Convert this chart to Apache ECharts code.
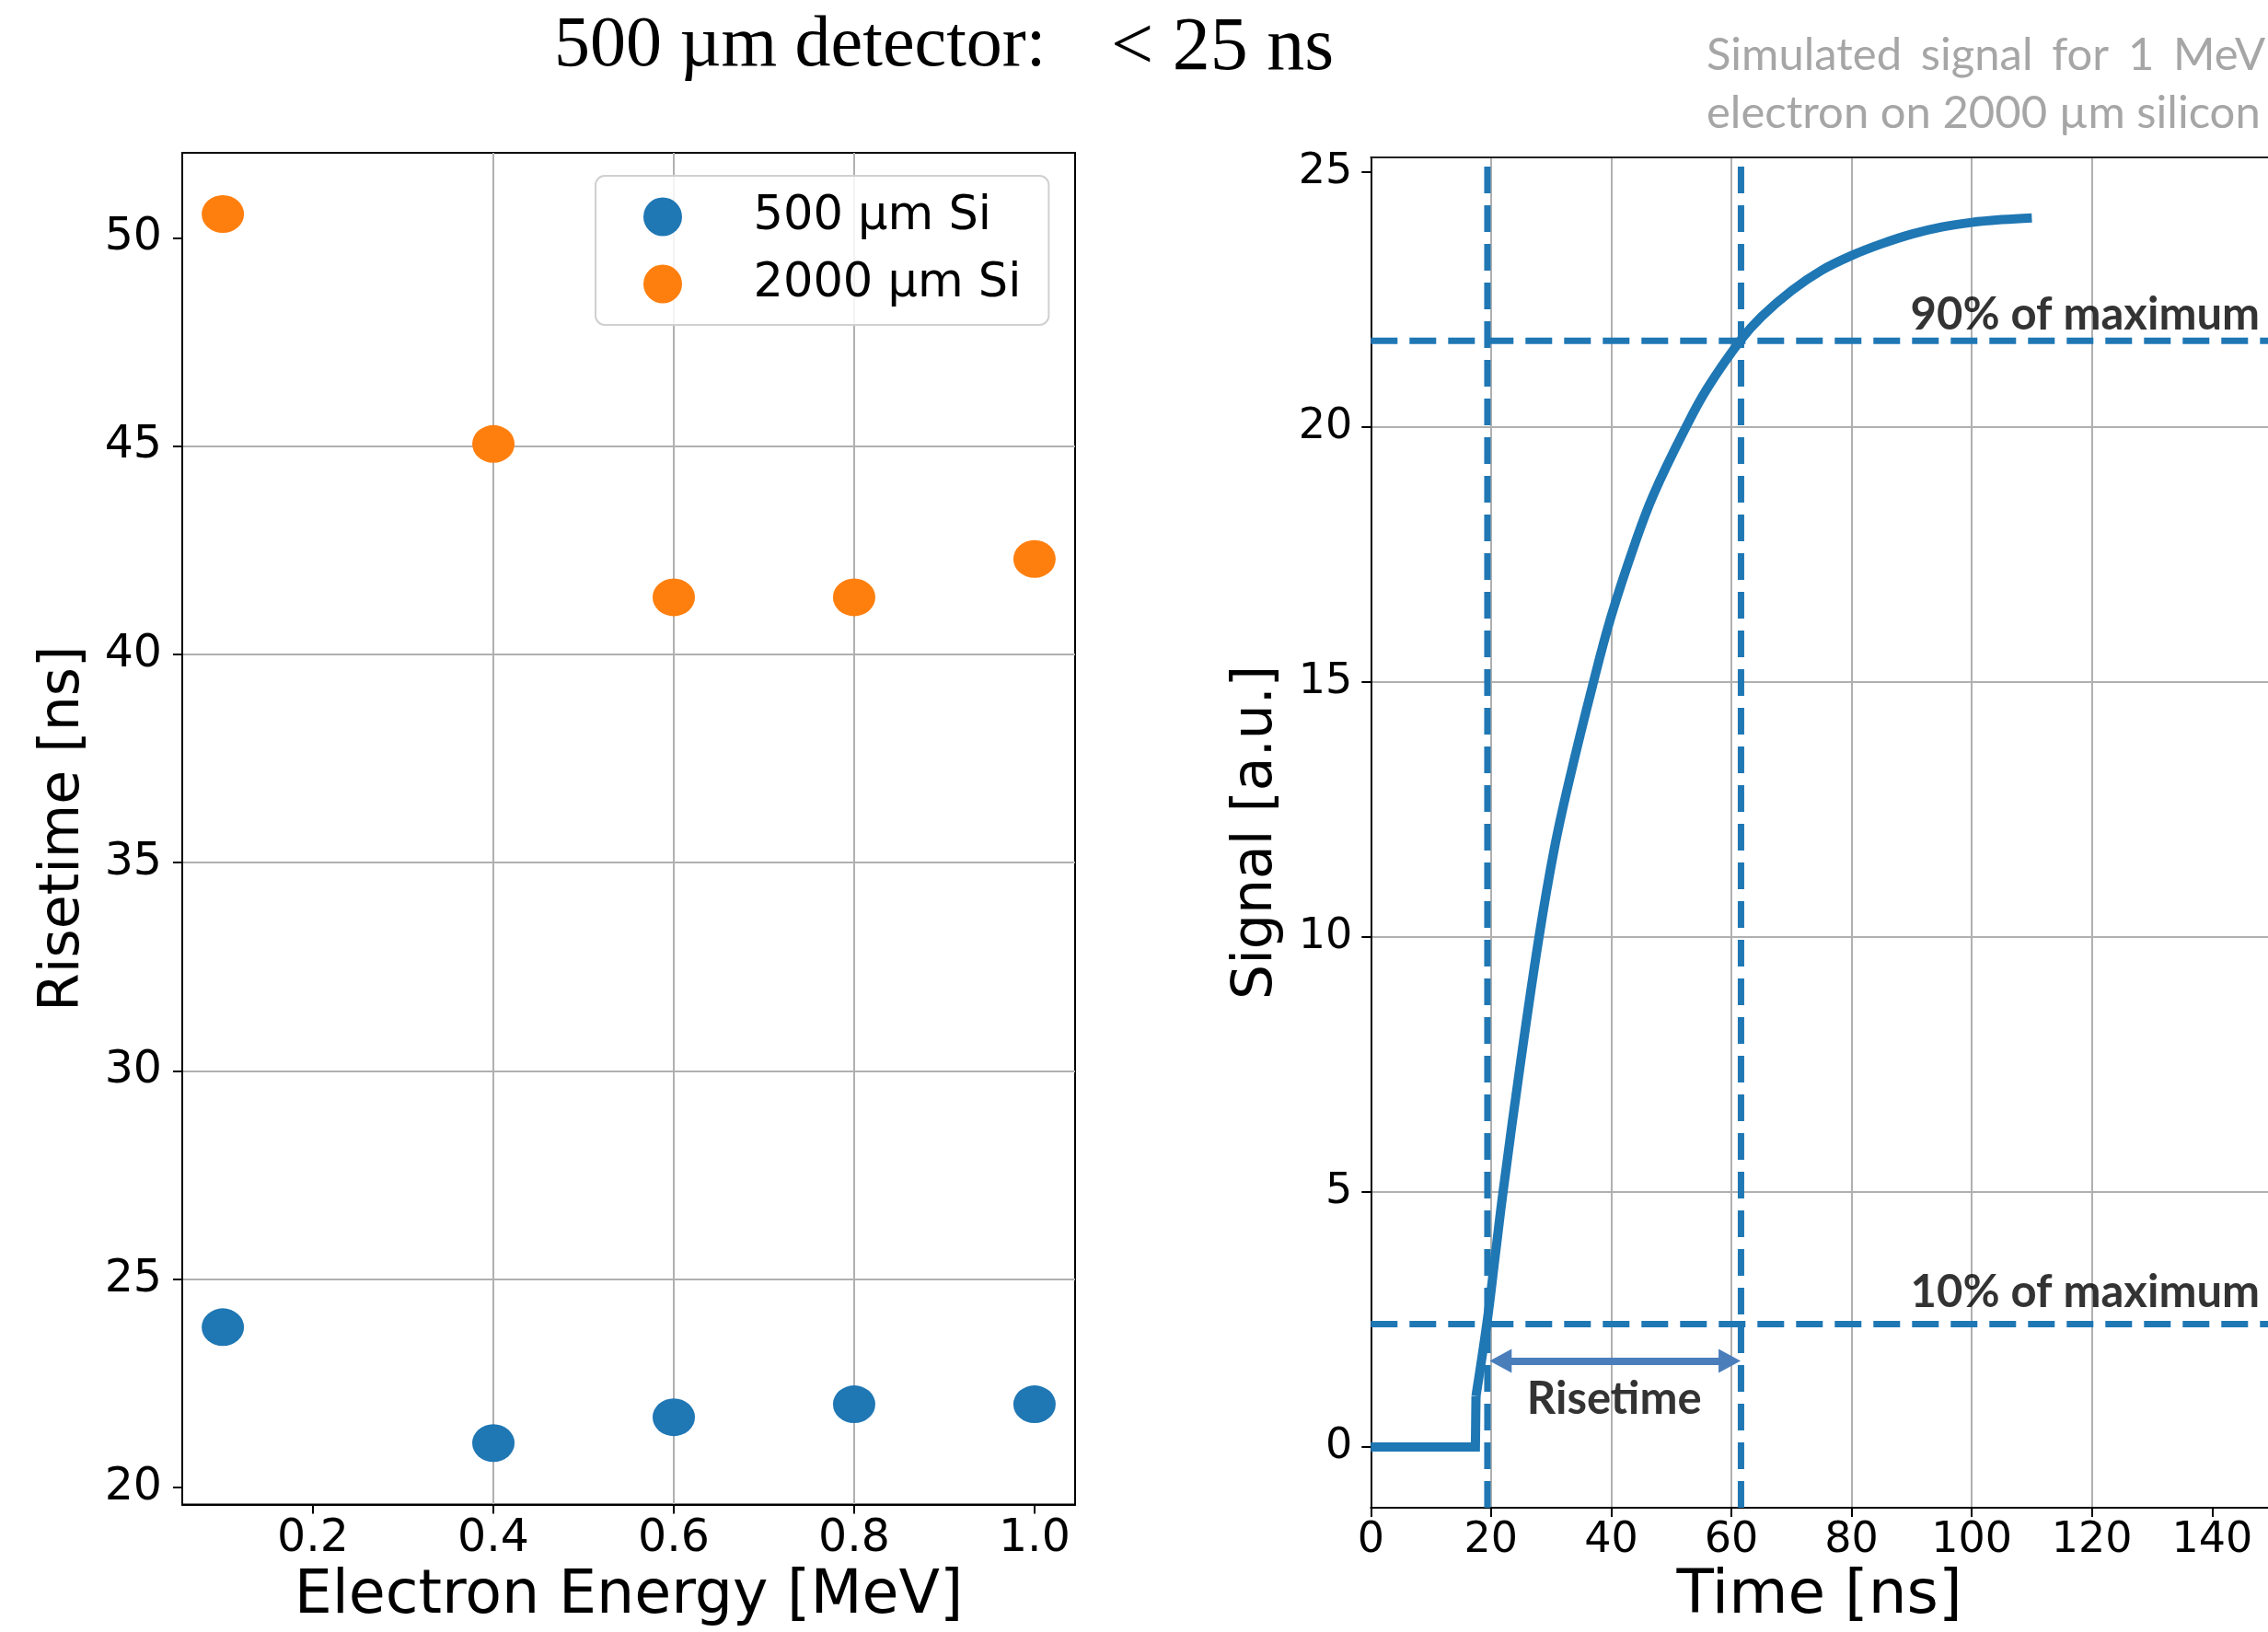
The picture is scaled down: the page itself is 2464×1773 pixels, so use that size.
<!DOCTYPE html>
<html><head><meta charset="utf-8">
<script src="https://cdn.jsdelivr.net/npm/echarts@6/dist/echarts.min.js"></script>
<style>html,body{margin:0;padding:0;background:#fff}#c{width:2464px;height:1773px}</style>
</head><body><div id="c"></div><script>
// ---------------- data ----------------
const energyMeV   = [0.1, 0.4, 0.6, 0.8, 1.0];
const rise500um   = [23.85, 21.07, 21.69, 22.0, 22.0];
const rise2000um  = [50.57, 45.05, 41.37, 41.37, 42.29];
const seriesNames = ['500 µm Si', '2000 µm Si'];

const leftXTicks  = [0.2, 0.4, 0.6, 0.8, 1.0];
const leftYTicks  = [20, 25, 30, 35, 40, 45, 50];
const rightXTicks = [0, 20, 40, 60, 80, 100, 120, 140];
const rightYTicks = [0, 5, 10, 15, 20, 25];

// simulated signal
const stepTime    = [0, 17.4, 17.5];
const stepSignal  = [0, 0, 1.0];
const curveTime   = [17.5, 19.4, 20.7, 22.0, 25.0, 28.0, 30.5, 33.0, 36.9, 40.0, 44.0, 47.1, 52.5, 56.0, 61.6, 65.0, 70.0, 75.0, 80.0, 85.0, 90.0, 95.0, 100.0, 105.0, 110.0];
const curveSignal = [1.0, 2.5, 3.75, 5.0, 7.61, 10.01, 11.71, 13.06, 14.93, 16.29, 17.73, 18.69, 20.01, 20.76, 21.71, 22.16, 22.67, 23.07, 23.36, 23.59, 23.78, 23.92, 24.01, 24.065, 24.1];

const level90 = 21.69, level10 = 2.41;     // horizontal dashed levels
const time10 = 19.4, time90 = 61.6;        // vertical dashed lines
const vLineTop = 25.14;
const arrowTime = [21.6, 59.7], arrowSignal = 1.69;
const annText  = ['90% of maximum', '10% of maximum', 'Risetime'];
const annTime  = [89.8, 89.8, 40.5];
const annValue = [22.2, 3.03, 0.93];

// axis extents
const leftXRange  = [0.055, 1.045];
const leftYRange  = [19.594, 52.04];
const rightXRange = [0, 149.3];
const rightYRange = [-1.19, 25.29];

// ---------------- chart ----------------
const BLUE = '#1f77b4', ORANGE = '#ff7f0e';
const ELLIPSE = 'path://M0,50 A50,50 0 1,0 100,50 A50,50 0 1,0 0,50 Z';
const dv = 'DejaVu Sans';
const chart = echarts.init(document.getElementById('c'), null, {renderer:'canvas'});

const dashStyle = {color: BLUE, width: 7, type: [29, 13]};
function lineSeries(data, style, extra) {
  return Object.assign({type:'line', xAxisIndex:1, yAxisIndex:1, data, symbol:'none', silent:true,
    lineStyle: style, emphasis:{disabled:true}, animation:false}, extra || {});
}
const sp = ' \u2006';

const option = {
  animation: false,
  backgroundColor: '#fff',
  title: [
    {text:'500 µm detector:', left:602, top:12, padding:0,
     textStyle:{fontFamily:'Liberation Serif', fontSize:78, fontWeight:'normal', color:'#000'}},
    {text:'< 25 ns', left:1207, top:12, padding:0,
     textStyle:{fontFamily:'Liberation Serif', fontSize:82, fontWeight:'normal', color:'#000'}},
    {text:'Simulated' + sp + 'signal' + sp + 'for' + sp + '1' + sp + 'MeV\nelectron on 2000 µm silicon', left:1854, top:29, padding:0,
     textStyle:{fontFamily:'Lato', fontSize:49, fontWeight:'normal', color:'#a6a6a6', lineHeight:63}}
  ],
  legend: {
    data: seriesNames, orient:'vertical', left:647, top:191, selectedMode:false,
    itemWidth:45, itemHeight:42, itemGap:22, padding:[19, 30, 19, 52],
    borderColor:'#d0d0d0', borderWidth:2, borderRadius:10, backgroundColor:'rgba(255,255,255,0.85)',
    textStyle:{fontFamily:dv, fontSize:51, color:'#000', padding:[0,0,0,71]}
  },
  grid: [
    {left:198, top:166, width:970, height:1469.7, show:true, borderColor:'#000', borderWidth:2, backgroundColor:'transparent'},
    {left:1489.3, top:170.7, width:974.7, height:1472}
  ],
  xAxis: [
    {gridIndex:0, type:'value', min:leftXRange[0], max:leftXRange[1],
     axisLine:{show:true, onZero:false, lineStyle:{color:'#000', width:2}},
     axisTick:{show:true, length:10, customValues:leftXTicks, lineStyle:{color:'#000', width:2}},
     axisLabel:{customValues:leftXTicks, formatter:v=>v.toFixed(1), fontFamily:dv, fontSize:49, color:'#000', margin:13},
     splitLine:{show:true, showMinLine:false, showMaxLine:false, lineStyle:{color:'#b0b0b0', width:2}},
     name:'Electron Energy [MeV]', nameLocation:'middle', nameGap:101,
     nameTextStyle:{fontFamily:dv, fontSize:65, color:'#000', verticalAlign:'middle'}},
    {gridIndex:1, type:'value', min:rightXRange[0], max:rightXRange[1], interval:20,
     axisLine:{show:true, onZero:false, lineStyle:{color:'#000', width:2}},
     axisTick:{show:true, length:10, customValues:rightXTicks, lineStyle:{color:'#000', width:2}},
     axisLabel:{customValues:rightXTicks, fontFamily:dv, fontSize:46, color:'#000', margin:13},
     splitLine:{show:true, showMinLine:false, showMaxLine:false, lineStyle:{color:'#b0b0b0', width:2}},
     name:'Time [ns]', nameLocation:'middle', nameGap:97,
     nameTextStyle:{fontFamily:dv, fontSize:66, color:'#000', verticalAlign:'middle'}},
    {gridIndex:1, type:'value', position:'top', min:rightXRange[0], max:rightXRange[1],
     axisLine:{show:true, onZero:false, lineStyle:{color:'#222', width:2}},
     axisTick:{show:false}, axisLabel:{show:false}, splitLine:{show:false}}
  ],
  yAxis: [
    {gridIndex:0, type:'value', min:leftYRange[0], max:leftYRange[1],
     axisLine:{show:true, onZero:false, lineStyle:{color:'#000', width:2}},
     axisTick:{show:true, length:10, customValues:leftYTicks, lineStyle:{color:'#000', width:2}},
     axisLabel:{customValues:leftYTicks, fontFamily:dv, fontSize:49, color:'#000', margin:22},
     splitLine:{show:true, showMinLine:false, showMaxLine:false, lineStyle:{color:'#b0b0b0', width:2}},
     name:'Risetime [ns]', nameLocation:'middle', nameGap:129,
     nameTextStyle:{fontFamily:dv, fontSize:60, color:'#000', verticalAlign:'middle'}},
    {gridIndex:1, type:'value', min:rightYRange[0], max:rightYRange[1],
     axisLine:{show:true, onZero:false, lineStyle:{color:'#000', width:2}},
     axisTick:{show:true, length:10, customValues:rightYTicks, lineStyle:{color:'#000', width:2}},
     axisLabel:{customValues:rightYTicks, fontFamily:dv, fontSize:46, color:'#000', margin:20},
     splitLine:{show:true, showMinLine:false, showMaxLine:false, lineStyle:{color:'#b0b0b0', width:2}},
     name:'Signal [a.u.]', nameLocation:'middle', nameGap:124,
     nameTextStyle:{fontFamily:dv, fontSize:60, color:'#000', verticalAlign:'middle'}}
  ],
  series: [
    {name:seriesNames[0], type:'scatter', xAxisIndex:0, yAxisIndex:0, symbol:ELLIPSE, symbolSize:[46,41],
     itemStyle:{color:BLUE, opacity:1}, data: energyMeV.map((e,i)=>[e, rise500um[i]]), z:5},
    {name:seriesNames[1], type:'scatter', xAxisIndex:0, yAxisIndex:0, symbol:ELLIPSE, symbolSize:[46,41],
     itemStyle:{color:ORANGE, opacity:1}, data: energyMeV.map((e,i)=>[e, rise2000um[i]]), z:5},

    lineSeries([[rightXRange[0], level90],[rightXRange[1], level90]], dashStyle),
    lineSeries([[rightXRange[0], level10],[rightXRange[1], level10]], dashStyle),
    lineSeries([[time10, rightYRange[0]],[time10, vLineTop]], dashStyle),
    lineSeries([[time90, rightYRange[0]],[time90, vLineTop]], dashStyle),

    lineSeries(stepTime.map((t,i)=>[t, stepSignal[i]]), {color:BLUE, width:10, join:'miter'}, {z:4}),
    lineSeries(curveTime.map((t,i)=>[t, curveSignal[i]]), {color:BLUE, width:10}, {z:4, smooth:0.4}),

    {type:'line', xAxisIndex:1, yAxisIndex:1, data:[], silent:true, animation:false,
     markLine:{silent:true, animation:false, symbol:['triangle','triangle'], symbolSize:[26,24],
       label:{show:false}, lineStyle:{color:'#4a7ebb', width:8, type:'solid'},
       emphasis:{disabled:true},
       data:[[{coord:[arrowTime[0], arrowSignal]},{coord:[arrowTime[1], arrowSignal]}]]}},

    {type:'scatter', xAxisIndex:1, yAxisIndex:1, silent:true, symbolSize:1, z:6,
     itemStyle:{color:'transparent'},
     label:{show:true, position:'inside', fontFamily:'Lato', fontWeight:'bold', fontSize:49, color:'#000'},
     data: annText.map((txt,i)=>({value:[annTime[i], annValue[i]],
        label:{formatter:txt, align: i<2 ? 'left' : 'center', verticalAlign:'middle'}}))}
  ]
};
chart.setOption(option);
</script></body></html>
